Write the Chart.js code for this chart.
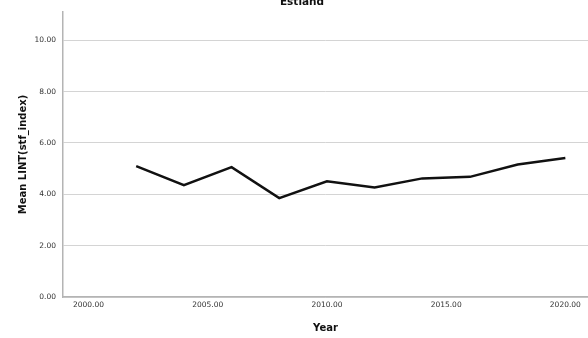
<!DOCTYPE html>
<html>
<head>
<meta charset="utf-8">
<script src="https://cdn.jsdelivr.net/npm/chart.js@4"></script>
<style>
  html, body { margin: 0; padding: 0; background: #fff; }
  #chart { display: block; }
</style>
</head>
<body>
<canvas id="chart" width="588" height="338"></canvas>
<script>
'use strict';

const years = [2002, 2004, 2006, 2008, 2010, 2012, 2014, 2016, 2018, 2020];
const meanValues = [5.10, 4.36, 5.06, 3.85, 4.51, 4.27, 4.62, 4.68, 5.16, 5.41];
const xTicks = [2000, 2005, 2010, 2015, 2020];
const yTicks = [0, 2, 4, 6, 8, 10];

const chartTitle = 'Estland';
const xTitle = 'Year';
const yTitle = 'Mean LINT(stf_index)';

const tickFont = { family: 'DejaVu Sans', size: 7.5 };
const titleFont = { family: 'DejaVu Sans', size: 10, weight: 'bold' };

// draws the cut-off title at the very top, like the reference
const topTitle = {
  id: 'topTitle',
  afterDraw(chart) {
    const ctx = chart.ctx;
    ctx.save();
    ctx.fillStyle = '#111';
    ctx.font = 'bold 10.5px "DejaVu Sans"';
    ctx.textAlign = 'center';
    ctx.textBaseline = 'alphabetic';
    ctx.fillText(chartTitle, 302, 5);
    ctx.restore();
  }
};

function renderChart() {
  const canvasElem = document.getElementById('chart');

  const data = {
    datasets: [
      {
        label: yTitle,
        data: years.map((year, i) => ({ x: year, y: meanValues[i] })),
        borderColor: '#111',
        borderWidth: 2.5,
        pointRadius: 0,
        tension: 0,
        fill: false,
      },
    ],
  };

  const config = {
    type: 'line',
    data: data,
    options: {
      responsive: false,
      animation: false,
      layout: { padding: { top: 12, right: 0, left: 0, bottom: 0 } },
      plugins: {
        legend: { display: false },
        tooltip: { enabled: false },
      },
      scales: {
        x: {
          type: 'linear',
          min: 1998.93,
          max: 2020.95,
          afterBuildTicks: scale => { scale.ticks = xTicks.map(v => ({ value: v })); },
          afterFit: scale => { scale.height = 41; },
          grid: { display: false, drawTicks: false },
          border: { color: '#b4b4b4', width: 1.5 },
          ticks: {
            color: '#333',
            font: tickFont,
            padding: 4,
            maxRotation: 0,
            callback: v => v.toFixed(2),
          },
          title: {
            display: true,
            text: xTitle,
            color: '#111',
            font: titleFont,
            padding: { top: 6 },
          },
        },
        y: {
          min: 0,
          max: 11.1,
          afterBuildTicks: scale => { scale.ticks = yTicks.map(v => ({ value: v })); },
          afterFit: scale => { scale.width = 63; },
          grid: { color: '#d4d4d4', lineWidth: 1, drawTicks: false },
          border: { color: '#b4b4b4', width: 1.5 },
          ticks: {
            color: '#333',
            font: tickFont,
            padding: 7,
            callback: v => v.toFixed(2),
          },
          title: {
            display: true,
            text: yTitle,
            color: '#111',
            font: titleFont,
            padding: { top: 17, bottom: 8 },
          },
        },
      },
    },
    plugins: [topTitle],
  };

  new Chart(canvasElem, config);
}

renderChart();
</script>
</body>
</html>
